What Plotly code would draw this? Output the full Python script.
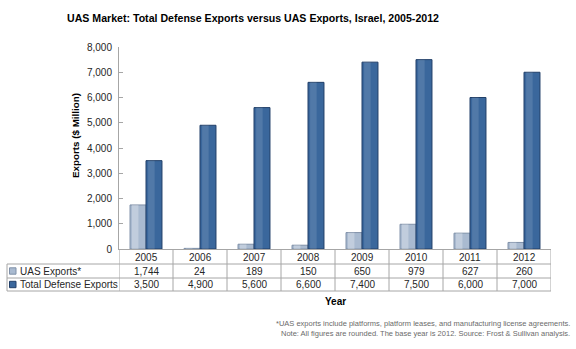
import plotly.graph_objects as go

# Export values, $ million
years = ["2005", "2006", "2007", "2008", "2009", "2010", "2011", "2012"]
uas_exports = [1744, 24, 189, 150, 650, 979, 627, 260]
total_defense_exports = [3500, 4900, 5600, 6600, 7400, 7500, 6000, 7000]
uas_labels = ["1,744", "24", "189", "150", "650", "979", "627", "260"]
total_labels = ["3,500", "4,900", "5,600", "6,600", "7,400", "7,500", "6,000", "7,000"]
series_names = ["UAS Exports*", "Total Defense Exports"]

UAS_FILL = "#A9BAD0"
UAS_EDGE = "#7F90A8"
TOT_FILL = "#3A679C"
TOT_EDGE = "#213F68"
GRID = "#A6A6A6"
TEXT = "#262626"
FONT = "Liberation Sans, Arial, sans-serif"

W, H = 576, 349
L, R, T, B = 119, 25, 47, 100
PW, PH = W - L - R, H - T - B


def px_x(p):
    return (p - L) / PW


def px_y(p):
    return (H - B - p) / PH


fig = go.Figure()

# main bars
fig.add_bar(x=years, y=uas_exports, offset=-0.296, width=0.296,
            marker=dict(color=UAS_FILL, line=dict(color=UAS_EDGE, width=1)),
            hoverinfo="skip", name=series_names[0])
fig.add_bar(x=years, y=total_defense_exports, offset=0.0, width=0.296,
            marker=dict(color=TOT_FILL, line=dict(color=TOT_EDGE, width=1)),
            hoverinfo="skip", name=series_names[1])
# soft highlight stripes for a rounded look
fig.add_bar(x=years, y=uas_exports, offset=-0.26, width=0.12,
            marker=dict(color="rgba(255,255,255,0.28)", line=dict(width=0)),
            hoverinfo="skip", showlegend=False)
fig.add_bar(x=years, y=total_defense_exports, offset=0.04, width=0.12,
            marker=dict(color="rgba(255,255,255,0.12)", line=dict(width=0)),
            hoverinfo="skip", showlegend=False)

shapes = []
ann = []

# data table grid under the axis
row_lines = [px_y(264), px_y(278), px_y(291)]
table_left = px_x(7)
for yv in row_lines:
    shapes.append(dict(type="line", xref="paper", yref="paper",
                       x0=table_left, x1=1, y0=yv, y1=yv,
                       line=dict(color=GRID, width=1)))
shapes.append(dict(type="line", xref="paper", yref="paper",
                   x0=table_left, x1=table_left, y0=row_lines[0], y1=row_lines[-1],
                   line=dict(color=GRID, width=1)))
for i in range(len(years) + 1):
    shapes.append(dict(type="line", xref="x", yref="paper",
                       x0=i - 0.5, x1=i - 0.5, y0=0, y1=row_lines[-1],
                       line=dict(color=GRID, width=1)))

row_y = [px_y(257), px_y(271), px_y(284.5)]
cell_font = dict(size=10, color=TEXT)
for i, yr in enumerate(years):
    for yv, txt in [(row_y[0], yr), (row_y[1], uas_labels[i]), (row_y[2], total_labels[i])]:
        ann.append(dict(x=i, y=yv, xref="x", yref="paper", text=txt,
                        xanchor="center", yanchor="middle",
                        showarrow=False, font=cell_font))

# row headers with legend keys
for name, yv, fill, edge in [(series_names[0], row_y[1], UAS_FILL, UAS_EDGE),
                             (series_names[1], row_y[2], TOT_FILL, TOT_EDGE)]:
    shapes.append(dict(type="rect", xref="paper", yref="paper",
                       x0=px_x(9.5), x1=px_x(16), y0=yv - 3.2 / PH, y1=yv + 3.2 / PH,
                       fillcolor=fill, line=dict(color=edge, width=1)))
    ann.append(dict(x=px_x(17.5), y=yv, xref="paper", yref="paper", text=name,
                    xanchor="left", yanchor="middle", showarrow=False, font=cell_font))

# axis titles
ann.append(dict(x=0.5, y=px_y(301), xref="paper", yref="paper", text="<b>Year</b>",
                xanchor="center", yanchor="middle",
                showarrow=False, font=dict(size=10, color="#000000")))
ann.append(dict(x=px_x(75), y=px_y(136), xref="paper", yref="paper",
                text="<b>Exports ($ Million)</b>", textangle=-90,
                xanchor="center", yanchor="middle",
                showarrow=False, font=dict(size=9.8, color="#000000")))

# notes
note_font = dict(size=7.5, color="#6B6B6B")
ann.append(dict(x=px_x(572), y=px_y(323), xref="paper", yref="paper",
                xanchor="right", yanchor="middle",
                text="*UAS exports include platforms, platform leases, and manufacturing license agreements.",
                showarrow=False, font=note_font))
ann.append(dict(x=px_x(572), y=px_y(333), xref="paper", yref="paper",
                xanchor="right", yanchor="middle",
                text="Note: All figures are rounded. The base year is 2012. Source: Frost &amp; Sullivan analysis.",
                showarrow=False, font=note_font))

fig.update_layout(
    width=W, height=H,
    margin=dict(l=L, r=R, t=T, b=B),
    paper_bgcolor="white", plot_bgcolor="white",
    barmode="overlay",
    showlegend=False,
    font=dict(family=FONT, color=TEXT),
    title=dict(text="<b>UAS Market: Total Defense Exports versus UAS Exports, Israel, 2005-2012</b>",
               x=253 / W, xanchor="center", y=1 - 18 / H, yanchor="middle",
               xref="container", yref="container",
               font=dict(size=10.6, color="#000000", family=FONT)),
    shapes=shapes,
    annotations=ann,
)
fig.update_xaxes(type="category", range=[-0.5, 7.5], showticklabels=False,
                 showline=True, linecolor=GRID, linewidth=1, ticks="",
                 showgrid=False, zeroline=False, fixedrange=True)
fig.update_yaxes(range=[0, 8000], dtick=1000, tickformat=",", ticks="inside",
                 ticklen=4, tickcolor=GRID, showline=True, linecolor=GRID, linewidth=1,
                 showgrid=False, zeroline=False, tickfont=dict(size=10, color=TEXT),
                 ticklabelstandoff=4, fixedrange=True)

fig.write_html("out.html", config={"displayModeBar": False})
